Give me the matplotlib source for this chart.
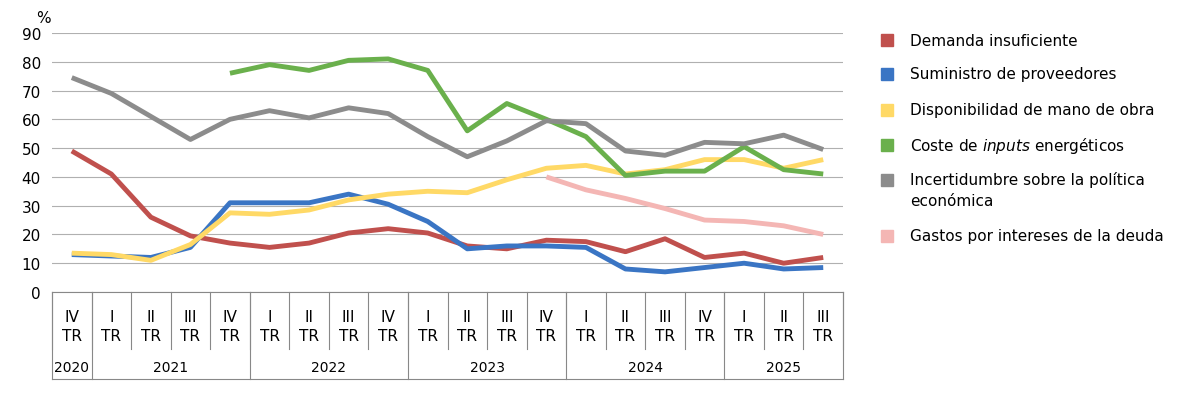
import numpy as np
import matplotlib.pyplot as plt

quarters = ["IV", "I", "II", "III", "IV", "I", "II", "III", "IV", "I",
            "II", "III", "IV", "I", "II", "III", "IV", "I", "II", "III"]
years = [("2020", 0, 0), ("2021", 1, 4), ("2022", 5, 8), ("2023", 9, 12),
         ("2024", 13, 16), ("2025", 17, 19)]

demanda = [49, 41, 26, 19.5, 17, 15.5, 17, 20.5, 22, 20.5, 16, 15, 18, 17.5, 14, 18.5, 12, 13.5, 10, 12]
suministro = [13, 12.5, 12, 15.5, 31, 31, 31, 34, 30.5, 24.5, 15, 16, 16, 15.5, 8, 7, 8.5, 10, 8, 8.5]
mano_obra = [13.5, 13, 11, 16.5, 27.5, 27, 28.5, 32, 34, 35, 34.5, 39, 43, 44, 41, 42.5, 46, 46, 43, 46]
energia = [76, 79, 77, 80.5, 81, 77, 56, 65.5, 60, 54, 40.5, 42, 42, 50.5, 42.5, 41]  # from IV 2021
incertidumbre = [74.5, 69, 61, 53, 60, 63, 60.5, 64, 62, 54, 47, 52.5, 59.5, 58.5, 49, 47.5, 52, 51.5, 54.5, 49.5]
gastos = [40, 35.5, 32.5, 29, 25, 24.5, 23, 20]  # from IV 2023

series = [
    ("Demanda insuficiente", demanda, 0, "#c0504d"),
    ("Suministro de proveedores", suministro, 0, "#3a75c4"),
    ("Disponibilidad de mano de obra", mano_obra, 0, "#ffd966"),
    ("Coste de $\\it{inputs}$ energéticos", energia, 4, "#6ab04c"),
    ("Incertidumbre sobre la política\neconómica", incertidumbre, 0, "#8c8c8c"),
    ("Gastos por intereses de la deuda", gastos, 12, "#f4b6b4"),
]

fig = plt.figure(figsize=(11.97, 4.02), dpi=100)
W, H = 1197, 402
ax = fig.add_axes([52 / W, 1 - 293 / H, (843 - 52) / W, (293 - 34) / H])

for name, vals, start, col in series:
    x = np.arange(start, start + len(vals))
    ax.plot(x, vals, color=col, lw=3.5, solid_capstyle="butt")

ax.set_xlim(-0.5, 19.5)
ax.set_ylim(0, 90)
ax.set_yticks(range(0, 91, 10))
ax.grid(axis="y", color="#b0b0b0", lw=0.8)
ax.set_axisbelow(True)
for s in ["top", "right", "left"]:
    ax.spines[s].set_visible(False)
ax.spines["bottom"].set_color("#888888")
ax.tick_params(axis="y", length=0, labelsize=11, pad=8)
ax.tick_params(axis="x", length=0)
ax.set_xticks(range(20))
ax.set_xticklabels([q + "\nTR" for q in quarters], fontsize=11, linespacing=1.35)
ax.tick_params(axis="x", pad=12)
ax.text(-0.02, 1.03, "%", transform=ax.transAxes, fontsize=11, ha="left", va="bottom")

trans = ax.get_xaxis_transform()
for i in range(21):
    ax.plot([i - 0.5, i - 0.5], [0, -0.22], transform=trans, color="#888888", lw=0.8, clip_on=False)
for name, a, b in years:
    ax.plot([b + 0.5, b + 0.5], [0, -0.336], transform=trans, color="#888888", lw=0.8, clip_on=False)
    ax.text((a + b) / 2, -0.29, name, transform=trans, ha="center", va="center", fontsize=10)
ax.plot([-0.5, -0.5], [0, -0.336], transform=trans, color="#888888", lw=0.8, clip_on=False)
ax.plot([-0.5, 19.5], [-0.336, -0.336], transform=trans, color="#888888", lw=0.8, clip_on=False)

leg_y = [41, 75, 111, 146, 181, 237]
for (name, vals, start, col), y in zip(series, leg_y):
    fig.patches.append(plt.Rectangle((881 / W, 1 - (y + 6) / H), 12 / W, 12 / H,
                                     transform=fig.transFigure, color=col))
    va = "top" if "\n" in name else "center"
    yy = 1 - (y - 9) / H if "\n" in name else 1 - y / H
    fig.text(910 / W, yy, name, fontsize=11, va=va, ha="left", linespacing=1.5)

fig.savefig("out.png", dpi=100)
